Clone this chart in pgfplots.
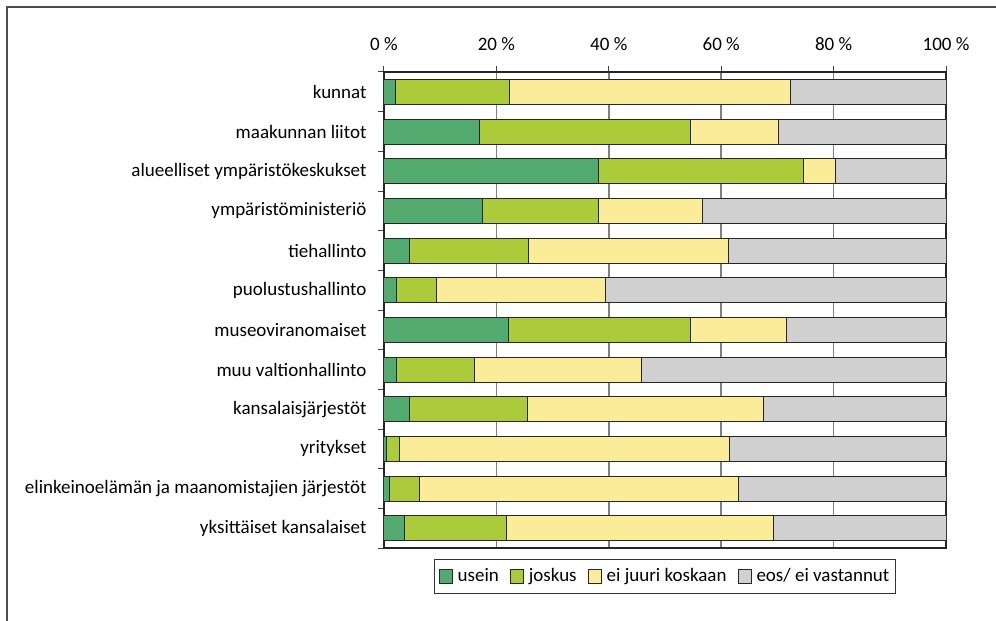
\documentclass[border=0pt]{standalone}
\usepackage{fontspec}
\setmainfont{Carlito}
\usepackage{pgfplots}
\pgfplotsset{compat=1.18}
\definecolor{usein}{HTML}{52AA6E}
\definecolor{joskus}{HTML}{ABCB3A}
\definecolor{eijuuri}{HTML}{FBEC9A}
\definecolor{eos}{HTML}{D0D0D0}
\begin{document}
\fontsize{19}{22}\selectfont
\begin{tikzpicture}
\useasboundingbox (0pt,0pt) rectangle (996pt,621pt);
\draw[line width=1.2pt, black!70] (7pt,0pt) -- (7pt,614pt) -- (996pt,614pt);
\begin{axis}[
    at={(384pt,73pt)}, anchor=south west,
    scale only axis, width=562pt, height=476pt,
    xbar stacked, bar width=25pt,
    y dir=reverse,
    xmin=0, xmax=100, ymin=-0.5, ymax=11.5,
    xtick={0,20,...,100},
    xticklabel={\pgfmathprintnumber{\tick}~\%},
    /pgf/number format/assume math mode=true,
    xticklabel pos=upper, xtick pos=upper,
    xticklabel style={yshift=9pt},
    ytick={0,...,11},
    yticklabels={kunnat, maakunnan liitot, alueelliset ympäristökeskukset, ympäristöministeriö, tiehallinto, puolustushallinto, museoviranomaiset, muu valtionhallinto, kansalaisjärjestöt, yritykset, elinkeinoelämän ja maanomistajien järjestöt, yksittäiset kansalaiset},
    ytick pos=left,
    minor ytick={-0.5,0.5,...,11.5},
    major y tick style={draw=none},
    yticklabel style={xshift=-5pt},
    tick align=outside,
    major tick length=6pt, minor tick length=6pt,
    tick style={line width=1pt, black!75},
    xmajorgrids, grid style={line width=1.5pt, black!50},
    axis line style={line width=1.2pt, black!85},
    every axis plot/.append style={draw=black!85, line width=1pt},
    legend style={at={(0.5,-0.023)}, anchor=north, legend columns=-1, draw=black!80, line width=1pt,
        inner xsep=4pt, inner ysep=7pt, font=\fontsize{19}{22}\selectfont,
        /tikz/every odd column/.append style={column sep=3pt},
        /tikz/every even column/.append style={column sep=9pt}},
    legend image code/.code={\draw[#1] (0pt,-7pt) rectangle (13pt,7pt);},
]
\addplot[fill=usein] coordinates {(2.0,0) (17.0,1) (38.2,2) (17.6,3) (4.6,4) (2.3,5) (22.1,6) (2.3,7) (4.6,8) (0.4,9) (0.9,10) (3.7,11)};
\addplot[fill=joskus] coordinates {(20.3,0) (37.6,1) (36.5,2) (20.6,3) (21.1,4) (7.1,5) (32.5,6) (13.8,7) (20.9,8) (2.3,9) (5.4,10) (18.1,11)};
\addplot[fill=eijuuri] coordinates {(50.1,0) (15.6,1) (5.6,2) (18.4,3) (35.6,4) (30.0,5) (17.0,6) (29.8,7) (42.1,8) (58.7,9) (56.8,10) (47.5,11)};
\addplot[fill=eos] coordinates {(27.6,0) (29.8,1) (19.7,2) (43.4,3) (38.7,4) (60.6,5) (28.4,6) (54.1,7) (32.4,8) (38.6,9) (36.9,10) (30.7,11)};
\legend{usein, joskus, ei juuri koskaan, eos/ ei vastannut}
\end{axis}
\end{tikzpicture}
\end{document}
